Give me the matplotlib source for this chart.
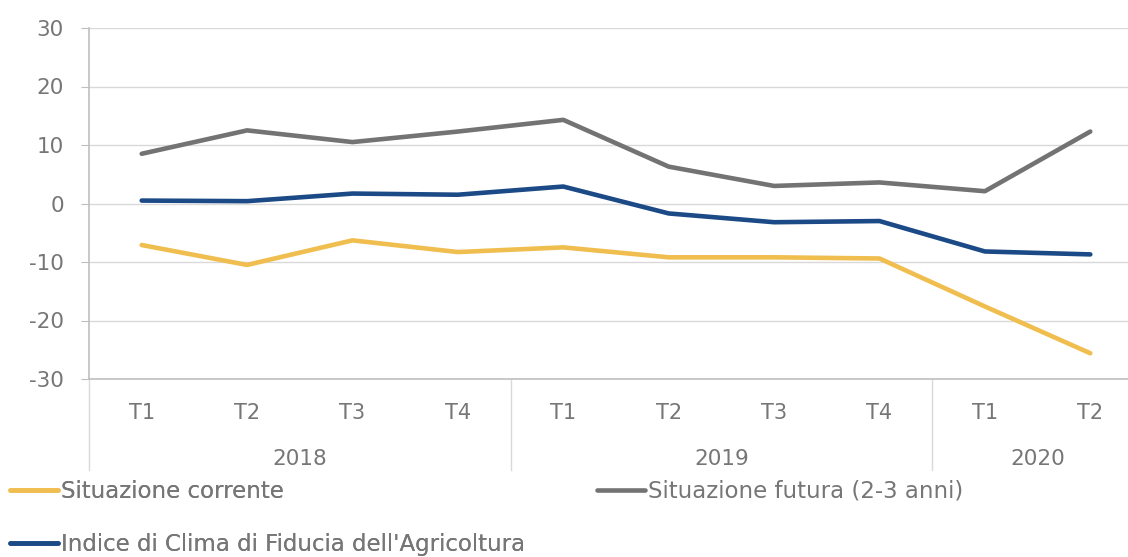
import matplotlib.pyplot as plt
import matplotlib.transforms as mtransforms

quarters = ["T1", "T2", "T3", "T4", "T1", "T2", "T3", "T4", "T1", "T2"]
years = ["2018", "2019", "2020"]
year_counts = [4, 4, 2]

corrente = [-7.1, -10.5, -6.3, -8.3, -7.5, -9.2, -9.2, -9.4, -17.6, -25.6]
futura = [8.5, 12.5, 10.5, 12.3, 14.3, 6.3, 3.0, 3.6, 2.1, 12.3]
indice = [0.5, 0.4, 1.7, 1.5, 2.9, -1.7, -3.2, -3.0, -8.2, -8.7]

txt = "#767676"
plt.rcParams["font.family"] = ["DejaVu Sans"]
plt.rcParams["axes.unicode_minus"] = False

fig = plt.figure(figsize=(11.28, 5.57), dpi=100)
ax = fig.add_axes([89 / 1128, 1 - 379 / 557, 1054 / 1128, 351 / 557])

x = list(range(len(quarters)))
l1, = ax.plot(x, corrente, color="#F0BD4F", lw=3.3, solid_capstyle="round", label="Situazione corrente")
l2, = ax.plot(x, futura, color="#737373", lw=3.3, solid_capstyle="round", label="Situazione futura (2-3 anni)")
l3, = ax.plot(x, indice, color="#1B4A86", lw=3.3, solid_capstyle="round", label="Indice di Clima di Fiducia dell'Agricoltura")

ax.set_xlim(-0.5, len(quarters) - 0.5)
ax.set_ylim(-30, 30)
ax.set_yticks(range(-30, 31, 10))
ax.grid(axis="y", color="#d9d9d9", lw=1)
ax.set_axisbelow(True)
for s in ["top", "right"]:
    ax.spines[s].set_visible(False)
ax.spines["left"].set_color("#bfbfbf")
ax.spines["bottom"].set_color("#bfbfbf")
ax.spines["left"].set_linewidth(1.2)
ax.spines["bottom"].set_linewidth(1.2)
ax.tick_params(axis="y", colors="#bfbfbf", labelcolor=txt, labelsize=15.5, length=6, pad=12)
ax.set_xticks(x)
ax.set_xticklabels(quarters)
ax.tick_params(axis="x", length=0, labelcolor=txt, labelsize=15, pad=17)

trans = mtransforms.blended_transform_factory(ax.transData, ax.transAxes)
start = 0
bounds = [-0.5]
for yr, n in zip(years, year_counts):
    ax.text(start + (n - 1) / 2, -0.255, yr, transform=trans, ha="center", va="bottom",
            color=txt, fontsize=15.5)
    start += n
    bounds.append(start - 0.5)
for b in bounds[:-1]:
    ax.plot([b, b], [0, -0.26], transform=trans, color="#d9d9d9", lw=1, clip_on=False)

leg_kw = dict(loc="upper left", frameon=False, fontsize=16.5, handlelength=2.1,
              handletextpad=0.12, labelcolor=txt, borderaxespad=0, borderpad=0)
leg1 = fig.legend(handles=[l1, l3], bbox_to_anchor=(10 / 1128, 1 - 480 / 557),
                  labelspacing=1.3, **leg_kw)
fig.legend(handles=[l2], bbox_to_anchor=(597 / 1128, 1 - 480 / 557), **leg_kw)
fig.add_artist(leg1)

fig.savefig("out.png", dpi=100)
